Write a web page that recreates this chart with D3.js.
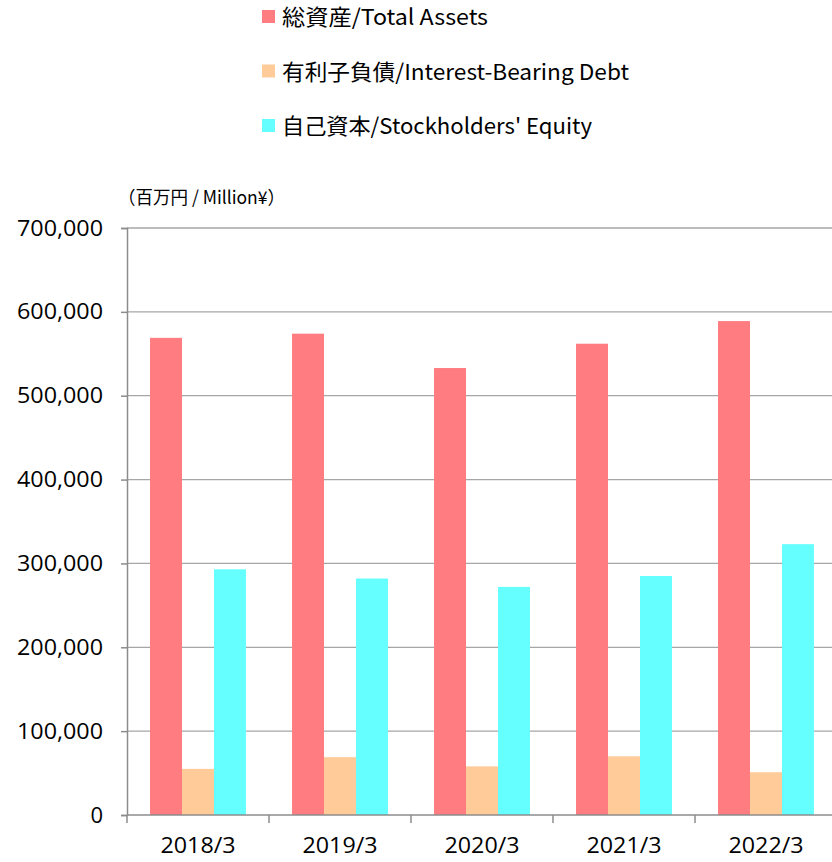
<!DOCTYPE html>
<html>
<head>
<meta charset="utf-8">
<script src="https://cdn.jsdelivr.net/npm/d3@7"></script>
<style>
  body { margin: 0; background: #fff; }
  svg { display: block; }
</style>
</head>
<body>
<div class="root"></div>
<script>
var categories = ['2018/3', '2019/3', '2020/3', '2021/3', '2022/3'];
var seriesNames = ['総資産/Total Assets', '有利子負債/Interest-Bearing Debt', '自己資本/Stockholders\' Equity'];
var totalAssets = [569000, 574000, 533000, 562000, 589000];
var interestDebt = [55000, 69000, 58000, 70000, 51000];
var equity = [293000, 282000, 272000, 285000, 323000];
var yTicks = [0, 100000, 200000, 300000, 400000, 500000, 600000, 700000];
var colors = ['#FF7C80', '#FFCC99', '#66FFFF'];

function runChart() {
  var w = 832, h = 862;
  var left = 127, right = 837, top = 228, bottom = 815;

  var svg = d3.select('.root').append('svg')
    .attr('width', w)
    .attr('height', h);

  var series = [totalAssets, interestDebt, equity];

  var x = d3.scaleBand().domain(categories).range([left, right]);
  var x1 = d3.scaleBand().domain([0, 1, 2]).range([0, x.bandwidth()]).paddingOuter(0.72).paddingInner(0);
  var y = d3.scaleLinear().domain([0, 700000]).range([bottom, top]);

  // gridlines
  svg.append('g')
    .selectAll('line')
    .data(yTicks.slice(1))
    .enter().append('line')
      .attr('x1', left).attr('x2', w)
      .attr('y1', function(d) { return y(d); })
      .attr('y2', function(d) { return y(d); })
      .attr('stroke', '#a6a6a6')
      .attr('stroke-width', 1.3);

  // bars
  var groups = svg.append('g')
    .selectAll('g')
    .data(categories)
    .enter().append('g')
      .attr('transform', function(d) { return 'translate(' + x(d) + ',0)'; });

  groups.selectAll('rect')
    .data(function(d, i) { return series.map(function(s, k) { return {k: k, v: s[i]}; }); })
    .enter().append('rect')
      .attr('x', function(d) { return x1(d.k); })
      .attr('width', x1.bandwidth())
      .attr('y', function(d) { return y(d.v); })
      .attr('height', function(d) { return bottom - y(d.v); })
      .attr('fill', function(d) { return colors[d.k]; });

  // y axis
  var yAxis = svg.append('g')
    .attr('transform', 'translate(' + left + ',0)')
    .call(d3.axisLeft(y).tickValues(yTicks).tickSize(6).tickPadding(18)
      .tickFormat(d3.format(',')));
  yAxis.select('.domain').attr('stroke', '#8c8c8c').attr('stroke-width', 1.5);
  yAxis.selectAll('.tick line').attr('stroke', '#8c8c8c').attr('stroke-width', 1.5);
  yAxis.selectAll('text')
    .attr('font-family', 'Open Sans, Noto Sans, sans-serif')
    .attr('font-size', 22)
    .attr('textLength', function(d) { return d === 0 ? null : 86; })
    .attr('lengthAdjust', 'spacingAndGlyphs')
    .attr('fill', '#000');

  // x axis
  var xAxis = svg.append('g')
    .attr('transform', 'translate(0,' + bottom + ')')
    .call(d3.axisBottom(x).tickSize(0).tickPadding(22));
  xAxis.select('.domain').remove();
  xAxis.append('line')
    .attr('x1', left).attr('x2', w).attr('y1', 0).attr('y2', 0)
    .attr('stroke', '#8c8c8c').attr('stroke-width', 1.5);
  xAxis.selectAll('.sep')
    .data(categories)
    .enter().append('line')
      .attr('class', 'sep')
      .attr('x1', function(d) { return x(d); })
      .attr('x2', function(d) { return x(d); })
      .attr('y1', 0).attr('y2', 8)
      .attr('stroke', '#8c8c8c').attr('stroke-width', 1.5);
  xAxis.selectAll('text')
    .attr('font-family', 'Open Sans, Noto Sans, sans-serif')
    .attr('font-size', 22)
    .attr('textLength', 75)
    .attr('lengthAdjust', 'spacingAndGlyphs')
    .attr('fill', '#000');

  // unit label
  svg.append('text')
    .attr('x', 118)
    .attr('y', 204)
    .attr('font-family', 'Noto Sans CJK JP, sans-serif')
    .attr('font-size', 18)
    .attr('textLength', 167)
    .attr('lengthAdjust', 'spacingAndGlyphs')
    .text('（百万円 / Million¥）');

  // legend
  var legendWidths = [206, 347, 310];
  var legend = svg.append('g')
    .selectAll('g')
    .data(seriesNames)
    .enter().append('g')
      .attr('transform', function(d, i) { return 'translate(262,' + (10 + i * 54.5) + ')'; });
  legend.append('rect')
    .attr('width', 13).attr('height', 13)
    .attr('fill', function(d, i) { return colors[i]; });
  legend.append('text')
    .attr('x', 20)
    .attr('y', 15)
    .attr('font-family', 'Noto Sans CJK JP, sans-serif')
    .attr('font-size', 22)
    .attr('textLength', function(d, i) { return legendWidths[i]; })
    .attr('lengthAdjust', 'spacingAndGlyphs')
    .text(function(d) { return d; });
}

window.onload = function() {
  runChart();
};
</script>
</body>
</html>
